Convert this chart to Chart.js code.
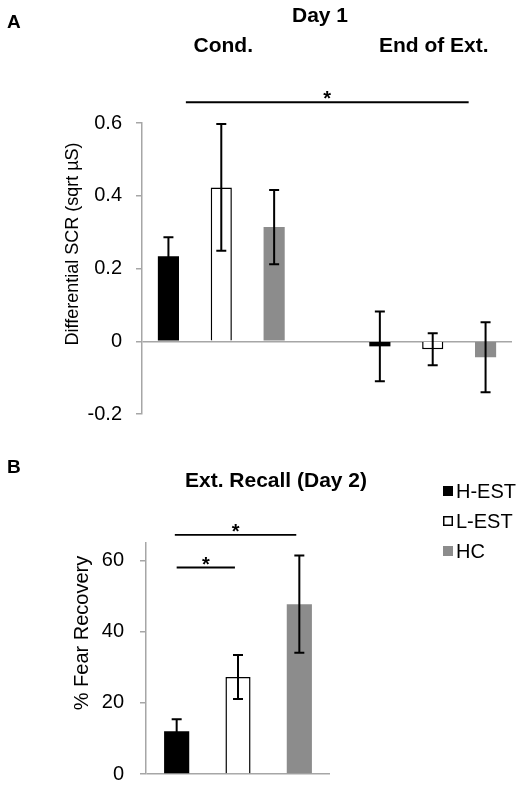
<!DOCTYPE html>
<html>
<head>
<meta charset="utf-8">
<script src="https://cdn.jsdelivr.net/npm/chart.js@4.4.1/dist/chart.umd.min.js"></script>
<style>
  body { margin: 0; background: #fff; }
  canvas { display: block; }
</style>
</head>
<body>
<canvas id="chartA" width="525" height="440"></canvas>
<canvas id="chartB" width="525" height="362"></canvas>
<script>
// data
const groups = ['H-EST', 'L-EST', 'HC'];
const day1Labels = ['H-EST', 'L-EST', 'HC', '', 'H-EST', 'L-EST', 'HC'];
const day1Means = [0.234, 0.423, 0.314, null, -0.014, -0.022, -0.044];
const day1Sem = [0.052, 0.174, 0.102, null, 0.096, 0.044, 0.096];
const day1Ticks = [-0.2, 0, 0.2, 0.4, 0.6];
const recallMeans = [12.0, 27.3, 47.8];
const recallSem = [3.4, 6.2, 13.7];
const recallTicks = [0, 20, 40, 60];
// significance brackets: [from index, to index, height]
const day1Sig = [[0.33, 5.68, 0.657]];
const recallSig = [[-0.03, 1.95, 67.3], [0, 0.95, 58.1]];

const FONT = "'Liberation Sans', Arial, sans-serif";
const colorOf = { 'H-EST': '#000000', 'L-EST': '#ffffff', 'HC': '#8c8c8c', '': '#ffffff' };
const axisGray = '#a6a6a6';

Chart.defaults.font.family = FONT;
Chart.defaults.color = '#000';

const errorBars = {
  id: 'errorBars',
  afterDatasetsDraw(chart, args, opts) {
    const ctx = chart.ctx, ys = chart.scales.y, xs = chart.scales.x;
    const meta = chart.getDatasetMeta(0);
    const vals = chart.data.datasets[0].data;
    ctx.save();
    ctx.strokeStyle = '#000';
    ctx.lineWidth = 2;
    meta.data.forEach((bar, i) => {
      if (vals[i] == null) return;
      const top = ys.getPixelForValue(vals[i] + opts.sem[i]);
      const bot = ys.getPixelForValue(vals[i] - opts.sem[i]);
      ctx.beginPath();
      ctx.moveTo(bar.x, top); ctx.lineTo(bar.x, bot);
      ctx.moveTo(bar.x - 5, top); ctx.lineTo(bar.x + 5, top);
      ctx.moveTo(bar.x - 5, bot); ctx.lineTo(bar.x + 5, bot);
      ctx.stroke();
    });
    ctx.fillStyle = '#000';
    ctx.font = 'bold 20px ' + FONT;
    ctx.textAlign = 'center';
    ctx.textBaseline = 'alphabetic';
    opts.sig.forEach(s => {
      const x1 = xs.getPixelForValue(s[0]), x2 = xs.getPixelForValue(s[1]);
      const yy = ys.getPixelForValue(s[2]);
      ctx.lineWidth = 1.8;
      ctx.beginPath();
      ctx.moveTo(x1, yy); ctx.lineTo(x2, yy);
      ctx.stroke();
      ctx.fillText('*', (x1 + x2) / 2, yy + 3);
    });
    ctx.restore();
  }
};

const panelText = {
  id: 'panelText',
  afterDraw(chart, args, opts) {
    const ctx = chart.ctx;
    opts.items.forEach(t => {
      ctx.save();
      ctx.fillStyle = '#000';
      ctx.font = t.font;
      ctx.textAlign = t.align || 'center';
      ctx.textBaseline = t.base || 'alphabetic';
      const x = typeof t.x === 'function' ? t.x(chart) : t.x;
      ctx.translate(x, t.y);
      if (t.rot) ctx.rotate(t.rot);
      ctx.fillText(t.text, 0, 0);
      ctx.restore();
    });
    if (opts.legend) {
      const lg = opts.legend;
      ctx.save();
      ctx.font = '20px ' + FONT;
      ctx.textAlign = 'left';
      ctx.textBaseline = 'middle';
      groups.forEach((g, i) => {
        const cy = lg.y + i * lg.gap;
        ctx.fillStyle = colorOf[g];
        ctx.fillRect(lg.x, cy - 5, 10, 10);
        if (g === 'L-EST') {
          ctx.strokeStyle = '#000';
          ctx.lineWidth = 1.5;
          ctx.strokeRect(lg.x + 0.75, cy - 4.25, 8.5, 8.5);
        }
        ctx.fillStyle = '#000';
        ctx.fillText(g, lg.x + 13, cy + 1);
      });
      ctx.restore();
    }
  }
};

function yAxis(min, max, tickVals, width, pad) {
  return {
    min: min,
    max: max,
    afterBuildTicks: axis => { axis.ticks = tickVals.map(v => ({ value: v })); },
    afterFit: axis => { axis.width = width; },
    ticks: { font: { size: 20 }, color: '#000', padding: pad, callback: v => v.toString() },
    grid: {
      color: c => Math.abs(c.tick.value) < 1e-9 ? axisGray : 'rgba(0,0,0,0)',
      lineWidth: 1.5,
      tickColor: axisGray,
      tickLength: 6
    },
    border: { color: axisGray, width: 1.5 }
  };
}

const chartA = new Chart(document.getElementById('chartA').getContext('2d'), {
  type: 'bar',
  data: {
    labels: day1Labels,
    datasets: [{
      data: day1Means,
      backgroundColor: day1Labels.map(l => colorOf[l]),
      borderColor: '#000',
      borderWidth: day1Labels.map(l => l === 'L-EST' ? 1.5 : 0),
      barPercentage: 0.4,
      categoryPercentage: 1
    }]
  },
  options: {
    responsive: false,
    animation: false,
    devicePixelRatio: 1,
    layout: { padding: { top: 123, bottom: 23, left: 0, right: 13 } },
    scales: {
      x: { display: false },
      y: yAxis(-0.2, 0.6, day1Ticks, 142, 14)
    },
    plugins: {
      legend: { display: false },
      tooltip: { enabled: false },
      errorBars: { sem: day1Sem, sig: day1Sig },
      panelText: {
        items: [
          { text: 'A', font: 'bold 19px ' + FONT, align: 'left', x: 7, y: 28 },
          { text: 'Day 1', font: 'bold 21px ' + FONT, x: 320, y: 22 },
          { text: 'Cond.', font: 'bold 21px ' + FONT, x: c => c.scales.x.getPixelForValue(1) + 2, y: 52 },
          { text: 'End of Ext.', font: 'bold 21px ' + FONT, x: c => c.scales.x.getPixelForValue(5) + 1, y: 52 },
          { text: 'Differential SCR (sqrt µS)', font: '18px ' + FONT, base: 'middle', x: 73, y: 244, rot: -Math.PI / 2 }
        ]
      }
    }
  },
  plugins: [errorBars, panelText]
});

const chartB = new Chart(document.getElementById('chartB').getContext('2d'), {
  type: 'bar',
  data: {
    labels: groups,
    datasets: [{
      data: recallMeans,
      backgroundColor: groups.map(g => colorOf[g]),
      borderColor: '#000',
      borderWidth: groups.map(g => g === 'L-EST' ? 1.5 : 0),
      barPercentage: 0.41,
      categoryPercentage: 1
    }]
  },
  options: {
    responsive: false,
    animation: false,
    devicePixelRatio: 1,
    layout: { padding: { top: 103, bottom: 15, left: 0, right: 195 } },
    scales: {
      x: { display: false },
      y: yAxis(0, 65, recallTicks, 146, 16)
    },
    plugins: {
      legend: { display: false },
      tooltip: { enabled: false },
      errorBars: { sem: recallSem, sig: recallSig },
      panelText: {
        items: [
          { text: 'B', font: 'bold 19px ' + FONT, align: 'left', x: 7, y: 33 },
          { text: 'Ext. Recall (Day 2)', font: 'bold 21px ' + FONT, x: 276, y: 47 },
          { text: '% Fear Recovery', font: '20px ' + FONT, base: 'middle', x: 82, y: 193, rot: -Math.PI / 2 }
        ],
        legend: { x: 443, y: 51, gap: 30 }
      }
    }
  },
  plugins: [errorBars, panelText]
});
</script>
</body>
</html>
